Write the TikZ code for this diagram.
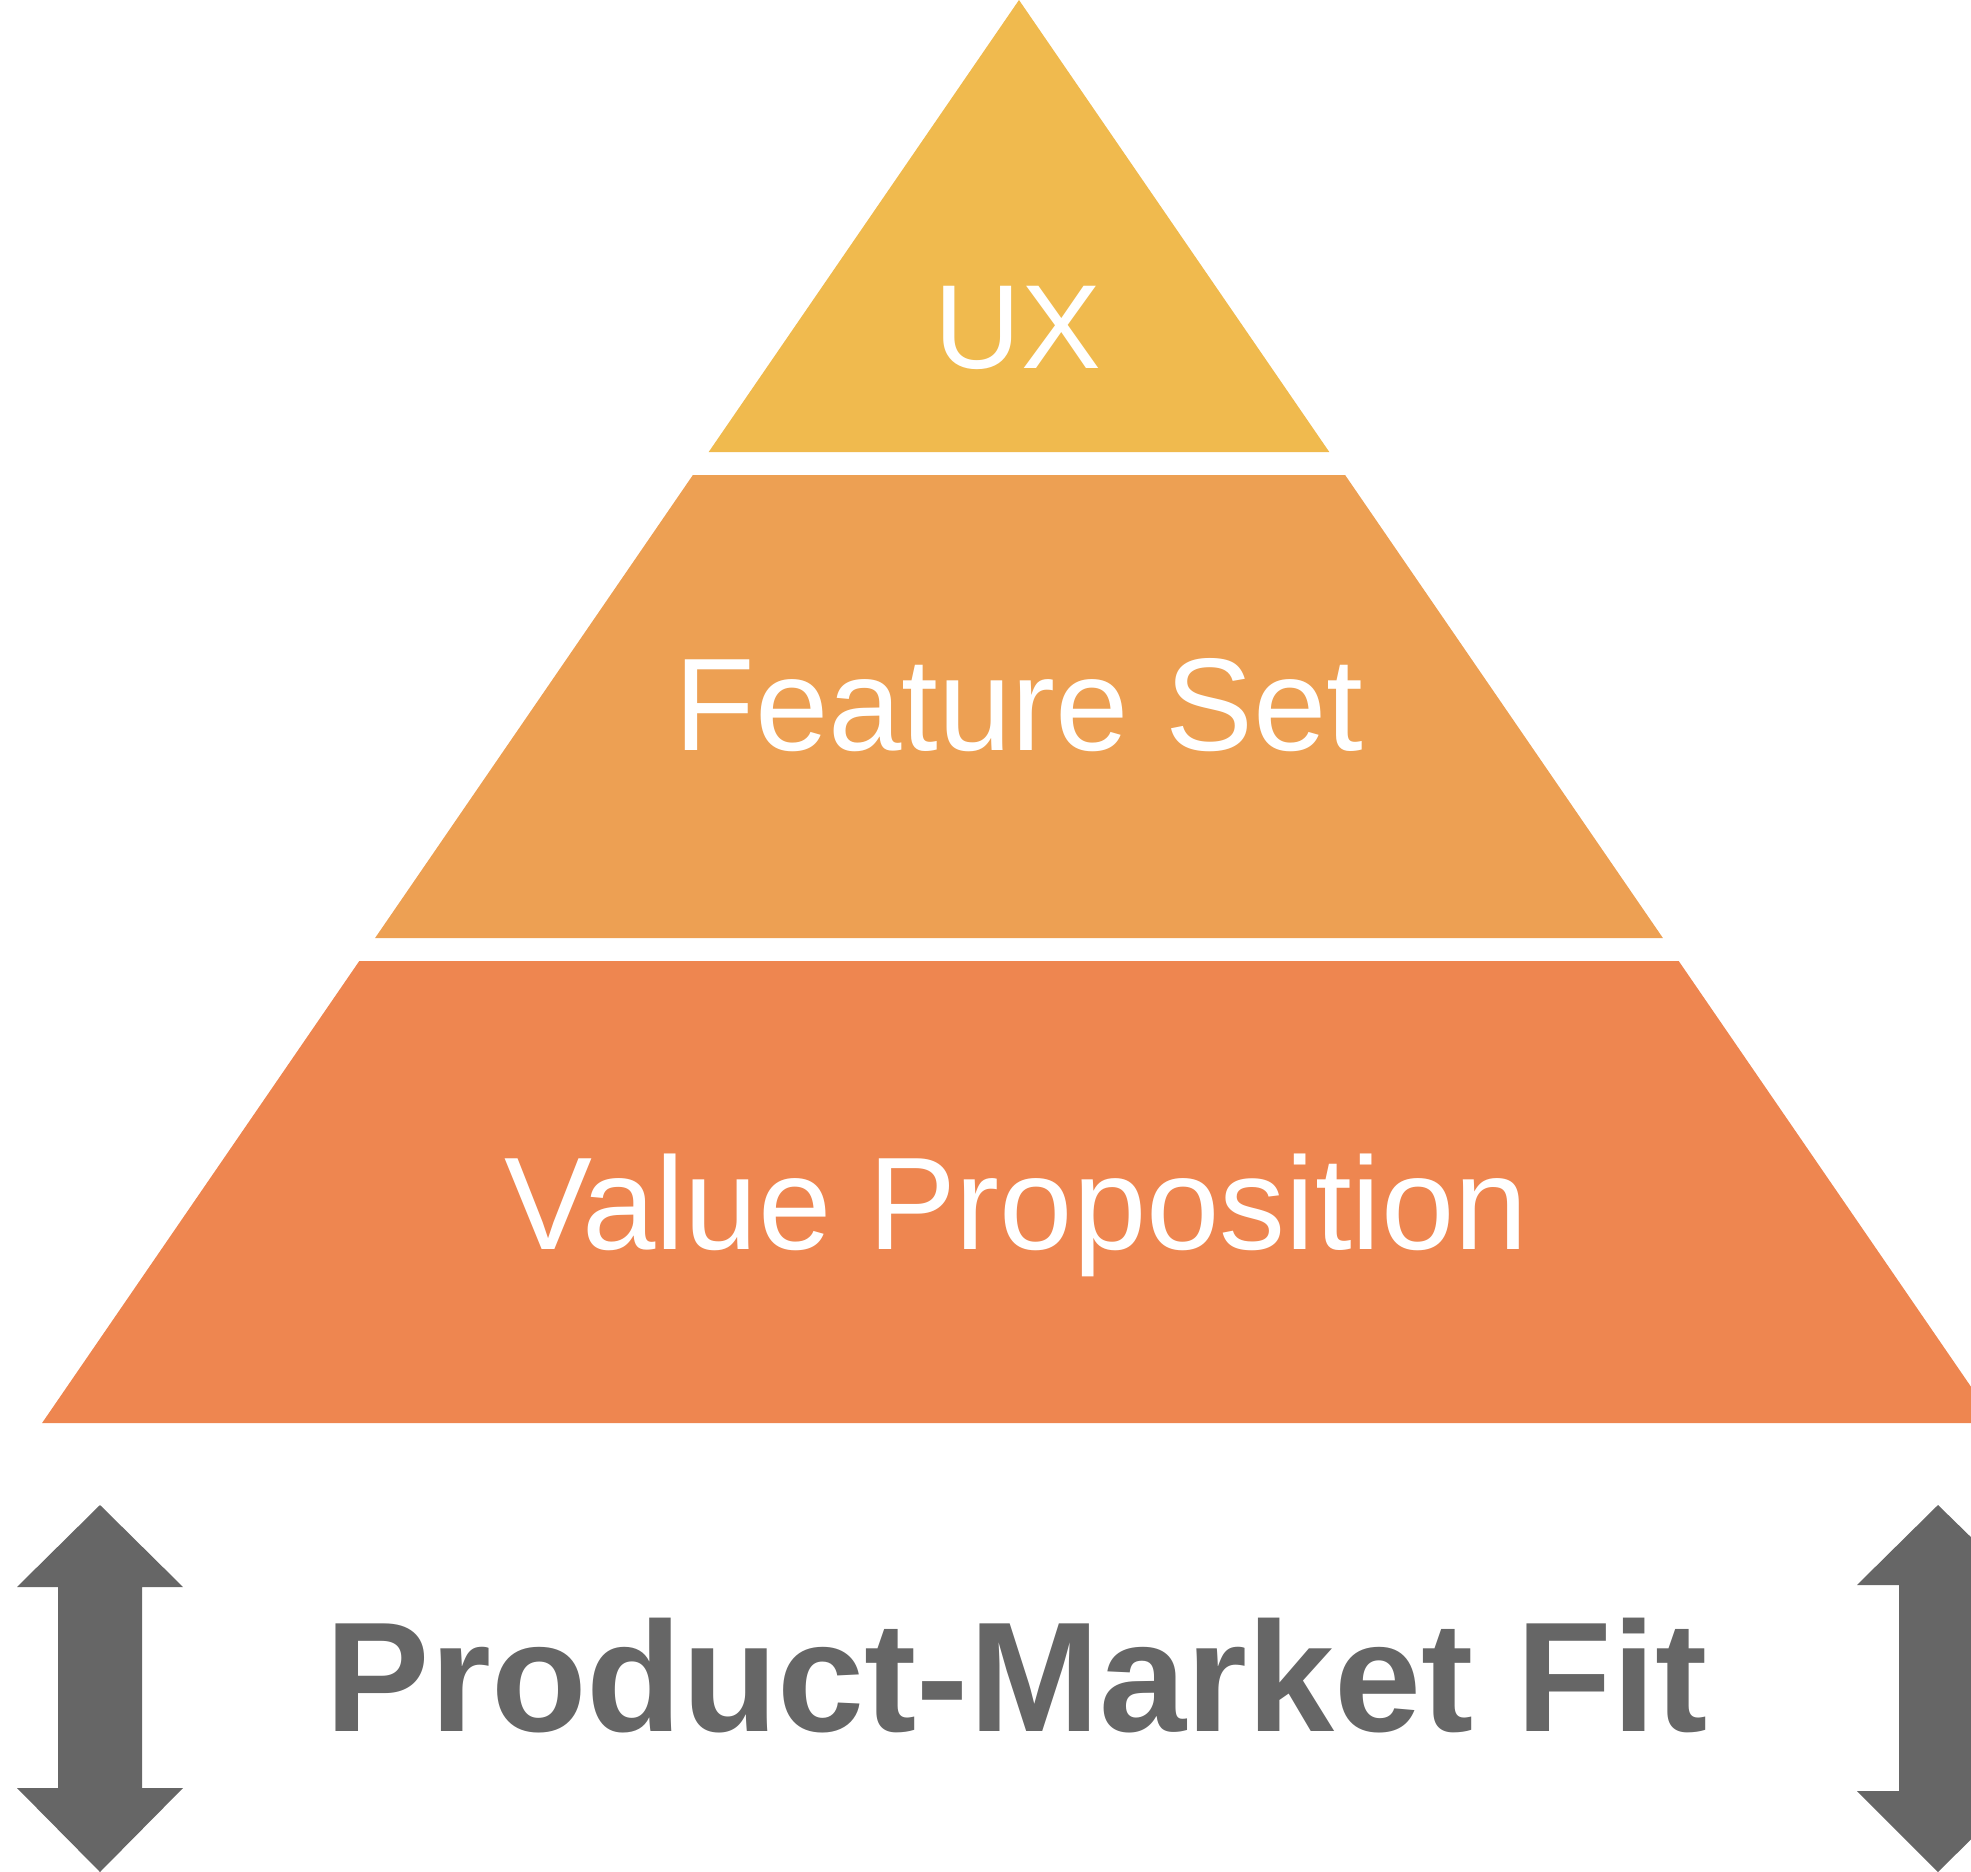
\documentclass[tikz,border=0pt]{standalone}
\usepackage{fontspec}
\setmainfont{Liberation Sans}
\definecolor{uxc}{RGB}{240,186,78}
\definecolor{fsc}{RGB}{237,160,83}
\definecolor{vpc}{RGB}{238,134,80}
\definecolor{arrc}{RGB}{102,102,102}
\begin{document}
\begin{tikzpicture}[x=0.01cm,y=-0.01cm,
  layer/.style={draw=none},
  lbl/.style={text=white,inner sep=0pt,anchor=base},
  dblarrow/.style={fill=arrc,draw=none}]
\useasboundingbox (0,0) rectangle (1971,1872);
\clip (0,0) rectangle (1971,1872);
% pyramid layers
\fill[uxc] (1019,0) -- (1329.3,452) -- (708.7,452) -- cycle;
\fill[fsc] (692.9,475) -- (1345.1,475) -- (1662.9,938) -- (375.1,938) -- cycle;
\fill[vpc] (359.3,961) -- (1678.7,961) -- (1995.9,1423) -- (42.1,1423) -- cycle;
% labels
\node[lbl,font=\fontsize{34}{40}\selectfont] (ux) at (1018,368) {UX};
\node[lbl,font=\fontsize{37.5}{44}\selectfont] (fs) at (1019,750) {Feature Set};
\node[lbl,font=\fontsize{37.5}{44}\selectfont] (vp) at (1016,1249) {Value Proposition};
\node[inner sep=0pt,anchor=base,text=arrc,font=\bfseries\fontsize{44.5}{52}\selectfont] (pmf) at (1017,1731) {Product-Market Fit};
% left double arrow
\fill[dblarrow] (100,1505) -- (183,1587) -- (142,1587) -- (142,1788) -- (183,1788) -- (100,1872) -- (17,1788) -- (58,1788) -- (58,1587) -- (17,1587) -- cycle;
% right double arrow
\fill[dblarrow] (1938,1505) -- (2020,1585) -- (1978,1585) -- (1978,1791) -- (2020,1791) -- (1938,1872) -- (1857,1791) -- (1899,1791) -- (1899,1585) -- (1857,1585) -- cycle;
\end{tikzpicture}
\end{document}
